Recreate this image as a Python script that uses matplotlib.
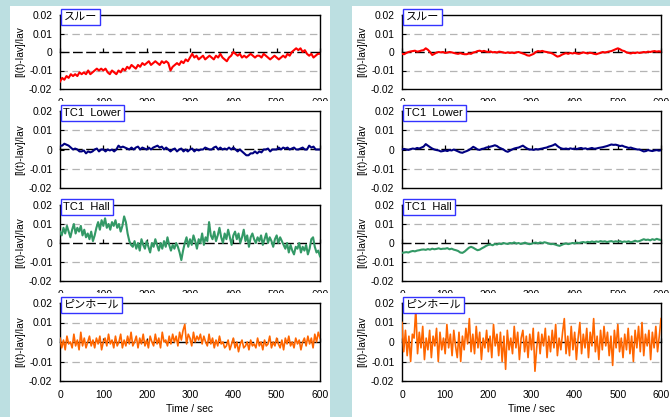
import matplotlib.pyplot as plt
import numpy as np
from matplotlib.patches import Rectangle

plt.rcParams['font.family'] = ['Liberation Sans', 'Noto Sans CJK JP']

# values, in units of 1e-3
labels = ['スルー', 'TC1  Lower', 'TC1  Hall', 'ピンホール']
colors = ['#ff0000', '#000080', '#339966', '#ff6600']
yticks = [-0.02, -0.01, 0, 0.01, 0.02]
ytick_labels = ['-0.02', '-0.01', '0', '0.01', '0.02']
xticks = [0, 100, 200, 300, 400, 500, 600]

# left column
sul_l = [-16, -14, -15, -13, -14, -12, -13, -12, -13, -11,
         -12, -11, -12, -10, -12, -11, -10, -9, -10, -9,
         -10, -9, -11, -12, -10, -11, -12, -10, -11, -9,
         -10, -8, -9, -7, -8, -9, -7, -8, -6, -7,
         -6, -5, -7, -6, -5, -6, -7, -5, -6, -5,
         -6, -10, -8, -7, -6, -7, -5, -6, -4, -5,
         -3, -1, -3, -2, -4, -3, -2, -4, -3, -2,
         -3, -4, -2, -3, -1, -3, -4, -5, -3, -2,
         0, -1, -2, -1, -3, -2, -3, -2, -1, -2,
         -3, -2, -2, -3, -1, -2, -3, -4, -3, -2,
         -3, -4, -3, -2, -3, -1, -2, 0, 1, 2,
         1, 2, 0, 1, -1, -2, -1, -3, -2, -1,
         -1]
tc1l_l = [2, 2, 3, 2.5, 2, 1, 0, 0.5, 0, -1,
          -1, -0.5, -2, -1, -1.5, -1, 0, 0.5, -1, 0,
          0, -1, 0, -0.5, 0, -1, 0, 2, 1, 1.5,
          1, 0.5, 0, 1, 0, 1, 1.5, 0, 1, 0.5,
          0, 1, 0, 1, 1.5, 2, 1, 1.5, 0, 1,
          0, -1, 0, 0.5, -1, 0, 0.5, -1, 0, -1,
          0, 0.5, -1, 0, -0.5, 0, 0, 1, 0.5, 0,
          0, 1, 1.5, 0, 1, 0, 0.5, 0, 1, 0,
          1, 0, -1, 0, -1, -2, -3, -3, -2, -2,
          -1, -2, -1, -1.5, 0, 0, 0.5, -1, 0, 0,
          0, 1, 0, 1, 0.5, 1, 0, 0.5, 1, 0,
          0, 0.5, 1, 0, 0, 2, 1, 1.5, 0, 0,
          0]
hall_l = [6, 4, 8, 5, 9, 6, 3, 7, 10, 5, 8, 6, 9, 4, 7, 3,
          5, 2, 6, 1, 4,
          8, 11, 7, 12, 9, 13, 8, 10, 7, 11, 9, 12, 8, 10, 6, 9, 14,
          11, 5, 1, -1,
          -2, 1, -3, 0, -4, 2, -1, -3, 1, -2, -5, 0, -2, 2, -1, -4,
          0, -3, 1, -2, 3, -1, -4, -1, -3, 0, -2, -5,
          -9, -4,
          0, 3, -2, 2, -1, 4, 1, -3, 2, 0, 5, -1, 3, 1, 11, 4,
          2, 6, 1, 4, 8, 3, 0, 5, 2, 7, 3, -1, 4, 6, 2, 5, 0, 3, 7, 1,
          4, -2, 3, 5, 2,
          0, 3, 1, 4, -1, 2, 5, 0, 3, 1, -2, 2, 4, 0, 3, 1, -1,
          -3, 0, -5, -1, -4, -6, -2, -3, 0, -5, -2, -4, -1, -6, -3, 2,
          3, -2, -5, -4, -7]
pin_l = [2, -3, 1, -4, 3, -1, 0, -3, 4, -2, 1, -4, 5, -2, 2, -3,
         0, 3, -2, 1, -3, 2, -1, 3, -4, 0, 2, -2, 4, -1, 1, -3,
         3, -2, 0, 4, -3, 1, -2, 3, -1, 5, -2, 0, 3, -3, 2, -1,
         4, -2, 1, -3, 3, 0, -2, 4, -1, 2, -3, 5, 0, 1, -2, 3,
         -1, 4, 0, 3, -2, 5, 1, 6, 9, -1, 4, 2, -2, 5, 0, 3,
         1, 4, -1, 3, 0, -2, 4, -1, 2, -3, 1, -2, 3, -1, 0, -3,
         -2, 1, -4, -1, 2, -3, 0, -5, -1, 1, -3, -2, 0, -4, 1, -2,
         -1, -3, 2, -2, 0, -4, 1, -2, -1, 3, -3, 0, -2, 2, -1, -3,
         1, -4, 2, -1, 3, -2, 0, -3, 2, -1, 1, -4, 0, 2, -2, 3,
         -1, 2, -3, 4, 0, 5, 2]

# right column
sul_r = [-1, -1.2, -0.5, 0, 0.3, 0.5, 0.7, 0.2, 0.4, 0.8,
         1, 2, 1.2, 0, -1.6, -1, -0.3, 0, -0.2, 0,
         -0.5, -0.3, 0, -0.2, -0.5, -0.8, -1, -0.6, -1, -1.2,
         -1.2, -0.8, -1, -0.3, 0, 0.5, 0.7, 0.3, 0.6, 0.2,
         0, 0.3, -0.2, 0, -0.3, 0.2, 0, -0.3, -0.5, -0.2,
         -0.5, -0.3, -0.6, -0.2, 0, -0.4, -0.8, -1.2, -1.8, -2,
         -1.5, -1, 0, 0.5, 0.3, 0.6, 0.2, 0, -0.3, -0.5,
         -1, -1.8, -2.5, -2.2, -1.5, -1, -0.6, -1, -0.5, -0.8,
         -0.5, -0.8, -1, -0.6, -0.2, -0.5, -0.8, -0.4, -0.6, -1,
         -1.2, -0.8, -0.5, 0, -0.3, 0, 0.3, 0.5, 1, 1.5,
         2, 1.5, 0.8, 0.5, -0.2, -0.5, -0.8, -0.4, -0.6, -0.2,
         -0.5, -0.3, 0, -0.2, 0.2, 0, 0.3, 0.5, 0.2, 0.4,
         0.2]
tc1l_r = [0, 0.3, 0, -0.2, 0.2, 0.5, 0.3, 0.8, 0.5, 1,
          1.5, 2.8, 2, 1.2, 0.5, 0, -0.3, -0.5, -1, -0.8,
          -0.5, -0.8, -0.3, -0.5, 0, -0.5, -1, -1.5, -1.7, -1.2,
          -0.8, -0.3, 0.5, 1.4, 0.8, 0, -0.2, 0.3, 0.5, 1,
          1.2, 1.5, 1.8, 2.2, 1.8, 1, 0.5, 0, -0.8, -1.2,
          -0.6, 0, 0.5, 0.8, 1, 1.5, 2, 1.2, 0.5, 0,
          0, -0.2, 0.2, 0, 0.3, 0.5, 0.8, 1, 1.5, 1.8,
          2.2, 2.8, 1.8, 1, 0.5, 0.3, 0.5, 0.2, 0.6, 0.3,
          0.5, 0.2, 0.6, 0.8, 0.4, 0.6, 0.2, 0.5, 0.8, 0.4,
          0.5, 0.8, 1, 1.2, 1.5, 1.8, 2.2, 2.6, 2.4, 2.5,
          2.2, 1.8, 2, 1.5, 1.2, 0.8, 1, 0.6, 0.3, 0,
          0, -0.5, -1, -0.8, -0.3, -0.6, -0.8, -0.5, -0.3, -0.6,
          -0.4]
hall_r = [-5.2, -5, -4.8, -5, -4.5, -4.2, -4.4, -4, -3.8, -3.5,
          -3.4, -3.6, -3.2, -3.5, -3, -3.3, -3.1, -2.8, -3.2, -3,
          -3, -2.7, -3.3, -3, -3.5, -3.8, -4.2, -5, -5.2, -4.5,
          -3.5, -2.5, -2, -2.5, -3.2, -3.8, -3.5, -2.8, -2.2, -1.5,
          -1, -0.8, -1.2, -0.5, -0.8, -0.3, -0.6, 0, -0.3, -0.5,
          0, -0.2, 0.3, -0.3, 0, -0.5, -0.2, 0.2, -0.3, -0.6,
          -0.4, 0, 0.2, -0.2, 0.3, 0, 0.4, 0.1, -0.3, -0.6,
          -0.5, -0.8, -1.2, -1.5, -1, -0.5, -0.2, -0.6, -0.3, 0,
          -0.2, 0.2, 0, 0.3, 0.5, 0.2, 0.6, 0.4, 0.8, 0.5,
          0.8, 0.6, 1, 0.7, 0.9, 0.5, 0.8, 1, 0.6, 0.9,
          0.7, 1, 0.5, 0.8, 0.6, 0.9, 0.4, 0.7, 1.2, 0.8,
          1, 1.5, 2, 1.6, 1.8, 1.4, 2, 1.6, 2.2, 1.8,
          1.6]
pin_r = [10, -5, 6, -7, 3, -10, 4, 2, 17, -6, 5, -3, 8, -9, 2, -4,
         6, -8, 3, -2, 7, -10, 5, -4, 2, -6, 9, -3, 4, -7, 6, -2,
         -8, 5, -10, 3, -4, 7, -1, 12, -5, 4, -6, 8, -3, 5, -9, 2,
         -3, 6, -5, 3, -8, 9, -2, 4, -7, 5, -10, 3, -14, 6, -4, 2,
         -6, 8, -3, 5, -9, 2, 6, -5, 3, -8, 4, -4, 7, -15, -3, 5,
         -6, 4, -2, 7, -8, 3, -5, 6, -3, 9, -7, 2, -4, 5, 12, -6,
         3, -7, 8, -4, 5, -9, 2, 10, -6, 4, -3, 7, -8, 5, -2, 12,
         -5, 3, -9, 6, -4, 8, -2, 5, -7, 3, -12, 6, -3, 9, -5, 2,
         -8, 4, -4, 7, -6, 3, -10, 6, -3, 8, -5, 10, -7, 4, -2, 6,
         -9, 5, -3, 8, -5, 3, 12]

series = [[sul_l, sul_r], [tc1l_l, tc1l_r], [hall_l, hall_r], [pin_l, pin_r]]
widths = [1.5, 1.5, 1.5, 1.2]

W, H = 670, 417
fig = plt.figure(figsize=(W / 100, H / 100), dpi=100, facecolor='#bcdfe1')

# pixel layout of the pasted chart panels
panel_x = [(10, 330), (352, 670)]
panel_top = [6, 101, 192, 293]
plot_x = [(60, 320), (402, 661)]
plot_y = [(15, 89), (111, 188), (205, 281), (303, 381)]


def frac(x0, y0, x1, y1):
    return [x0 / W, 1 - y1 / H, (x1 - x0) / W, (y1 - y0) / H]


for r in range(4):
    for c in range(2):
        px0, px1 = panel_x[c]
        fig.add_artist(Rectangle((px0 / W, 0), (px1 - px0) / W, 1 - panel_top[r] / H,
                                 transform=fig.transFigure, facecolor='white',
                                 edgecolor='none', zorder=10 * r + 1))
        ax = fig.add_axes(frac(plot_x[c][0], plot_y[r][0], plot_x[c][1], plot_y[r][1]),
                          zorder=10 * r + 2)
        vals = np.array(series[r][c]) * 1e-3
        t = np.linspace(0, 600, len(vals))
        ax.plot(t, vals, color=colors[r], lw=widths[r], zorder=3)
        ax.set_xlim(0, 600)
        ax.set_ylim(-0.02, 0.02)
        ax.set_yticks(yticks)
        ax.set_yticklabels(ytick_labels)
        ax.set_xticks(xticks)
        ax.tick_params(axis='y', direction='in', length=3, width=0.8,
                       labelsize=7.4, pad=5.5)
        # row 2 labels sit wholly under the next pasted panel
        ax.tick_params(axis='x', length=0, labelsize=7.4, pad=6.5,
                       labelbottom=(r != 1))
        ax.grid(axis='y', color='#b4b4b4', lw=0.9, linestyle=(0, (6, 3.5)))
        for k, tk in enumerate(ax.yaxis.get_major_ticks()):
            if yticks[k] in (0, -0.02, 0.02):
                tk.gridline.set_visible(False)
        for s in ax.spines.values():
            s.set_linewidth(1.0)
            s.set_color('black')
        ax.set_ylabel('[I(t)-Iav]/Iav', fontsize=7.2)
        ax.yaxis.set_label_coords(-35 / (plot_x[c][1] - plot_x[c][0]), 0.5)

        # zero axis of the excel chart: dashed line with small ticks
        zax = ax.secondary_xaxis(0.5)
        zax.set_xticks(xticks)
        zax.tick_params(direction='out', length=3, width=0.9, labeltop=False)
        zax.spines['top'].set_linestyle((0, (6, 3.5)))
        zax.spines['top'].set_linewidth(1.0)

        ax.annotate(labels[r], xy=(0, 1), xycoords='axes fraction',
                    xytext=(2.5, -1.5), textcoords='offset points',
                    ha='left', va='center', fontsize=8, zorder=5,
                    bbox=dict(boxstyle='square,pad=0.25', fc='white',
                              ec='#3333ff', lw=1.0))
        if r == 3:
            ax.set_xlabel('Time / sec', fontsize=7.4)
            ax.xaxis.set_label_coords(0.5, -0.30)

fig.savefig('out.png', dpi=100, facecolor=fig.get_facecolor())
